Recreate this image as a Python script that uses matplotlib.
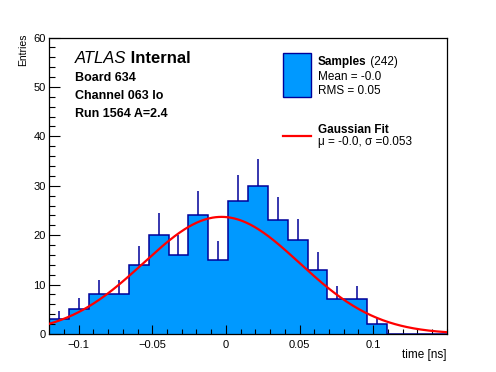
import numpy as np
import matplotlib
matplotlib.use("Agg")
import matplotlib.pyplot as plt
import matplotlib.patches as patches

plt.rcParams['font.family'] = ['Liberation Sans', 'DejaVu Sans']

# histogram data
bin_lo, bin_hi, n_bins = -0.12, 0.15, 20
counts = [3, 5, 8, 8, 14, 20, 16, 24, 15, 27, 30, 23, 19, 13, 7, 7, 2, 0, 0, 0]
n_entries = 242

# gaussian fit result
fit_amp = 23.7
fit_mu = -0.003
fit_sigma = 0.053

# labels
header_lines = ["Board 634", "Channel 063 lo", "Run 1564 A=2.4"]
legend_samples = ["Mean = -0.0", "RMS = 0.05"]
legend_fit = "\u03bc = -0.0, \u03c3 =0.053"

W, H = 496, 372
fill_col = '#0099ff'
edge_col = '#000099'


def fx(x):
    return x / W


def fy(y):
    return 1 - y / H


fig = plt.figure(figsize=(W / 100, H / 100), dpi=100)
ax = fig.add_axes([fx(49.3), fy(334), (446.7 - 49.3) / W, (334 - 37.5) / H])

edges = np.linspace(bin_lo, bin_hi, n_bins + 1)
counts = np.array(counts, dtype=float)
centers = 0.5 * (edges[:-1] + edges[1:])

ax.stairs(counts, edges, fill=True, color=fill_col, zorder=1)
ax.stairs(counts, edges, color=edge_col, linewidth=1.1, baseline=0, zorder=2)
has = counts > 0
ax.vlines(centers[has], counts[has], counts[has] + np.sqrt(counts[has]),
          color=edge_col, linewidth=1.1, zorder=2)

xs = np.linspace(bin_lo, bin_hi, 400)
ys = fit_amp * np.exp(-0.5 * ((xs - fit_mu) / fit_sigma) ** 2)
ax.plot(xs, ys, color='red', linewidth=1.6, zorder=3)

ax.set_xlim(bin_lo, bin_hi)
ax.set_ylim(0, 60)
ax.set_xticks([-0.1, -0.05, 0, 0.05, 0.1])
ax.set_xticklabels(['\u22120.1', '\u22120.05', '0', '0.05', '0.1'])
ax.set_xticks(np.arange(-0.11, 0.151, 0.01), minor=True)
ax.set_yticks(np.arange(0, 61, 10))
ax.set_yticks(np.arange(0, 61, 2), minor=True)
ax.tick_params(axis='x', which='major', direction='in', length=6.5, width=0.8,
               labelsize=8, pad=4)
ax.tick_params(axis='x', which='minor', direction='in', length=3.5, width=0.8)
ax.tick_params(axis='y', which='major', direction='in', length=8, width=0.8,
               labelsize=8, pad=2.5)
ax.tick_params(axis='y', which='minor', direction='in', length=4, width=0.8)
for s in ax.spines.values():
    s.set_linewidth(0.9)

fig.text(fx(446.5), fy(358), "time [ns]", ha='right', va='baseline', fontsize=8.5)
fig.text(fx(23), fy(33), "Entries", ha='center', va='top', rotation=90, fontsize=7.5)

# ATLAS label
t = fig.text(fx(75), fy(62.7), "ATLAS", fontsize=12, style='italic', va='baseline')
ax.annotate(" Internal", xy=(1, 0), xycoords=t, va='bottom', ha='left',
            fontsize=12, fontweight='bold')
for i, line in enumerate(header_lines):
    fig.text(fx(75), fy(81 + 18 * i), line, fontsize=9, fontweight='bold',
             va='baseline')

# legend
fig.patches.append(patches.Rectangle((fx(283), fy(97)), 28 / W, 44 / H,
                                     transform=fig.transFigure, facecolor=fill_col,
                                     edgecolor=edge_col, linewidth=1.0))
s = fig.text(fx(318), fy(65), "Samples", fontsize=8.5, fontweight='bold', va='baseline')
ax.annotate(f" ({n_entries})", xy=(1, 0), xycoords=s, va='bottom', ha='left',
            fontsize=8.5)
for i, line in enumerate(legend_samples):
    fig.text(fx(318), fy(80 + 14 * i), line, fontsize=8.5, va='baseline')

fig.lines.append(plt.Line2D([fx(283), fx(311)], [fy(135.7), fy(135.7)],
                            transform=fig.transFigure, color='red', linewidth=1.6))
fig.text(fx(318), fy(133), "Gaussian Fit", fontsize=8.5, fontweight='bold', va='baseline')
fig.text(fx(318), fy(145.5), legend_fit, fontsize=8.5, va='baseline')

fig.savefig("out.png", dpi=100)
